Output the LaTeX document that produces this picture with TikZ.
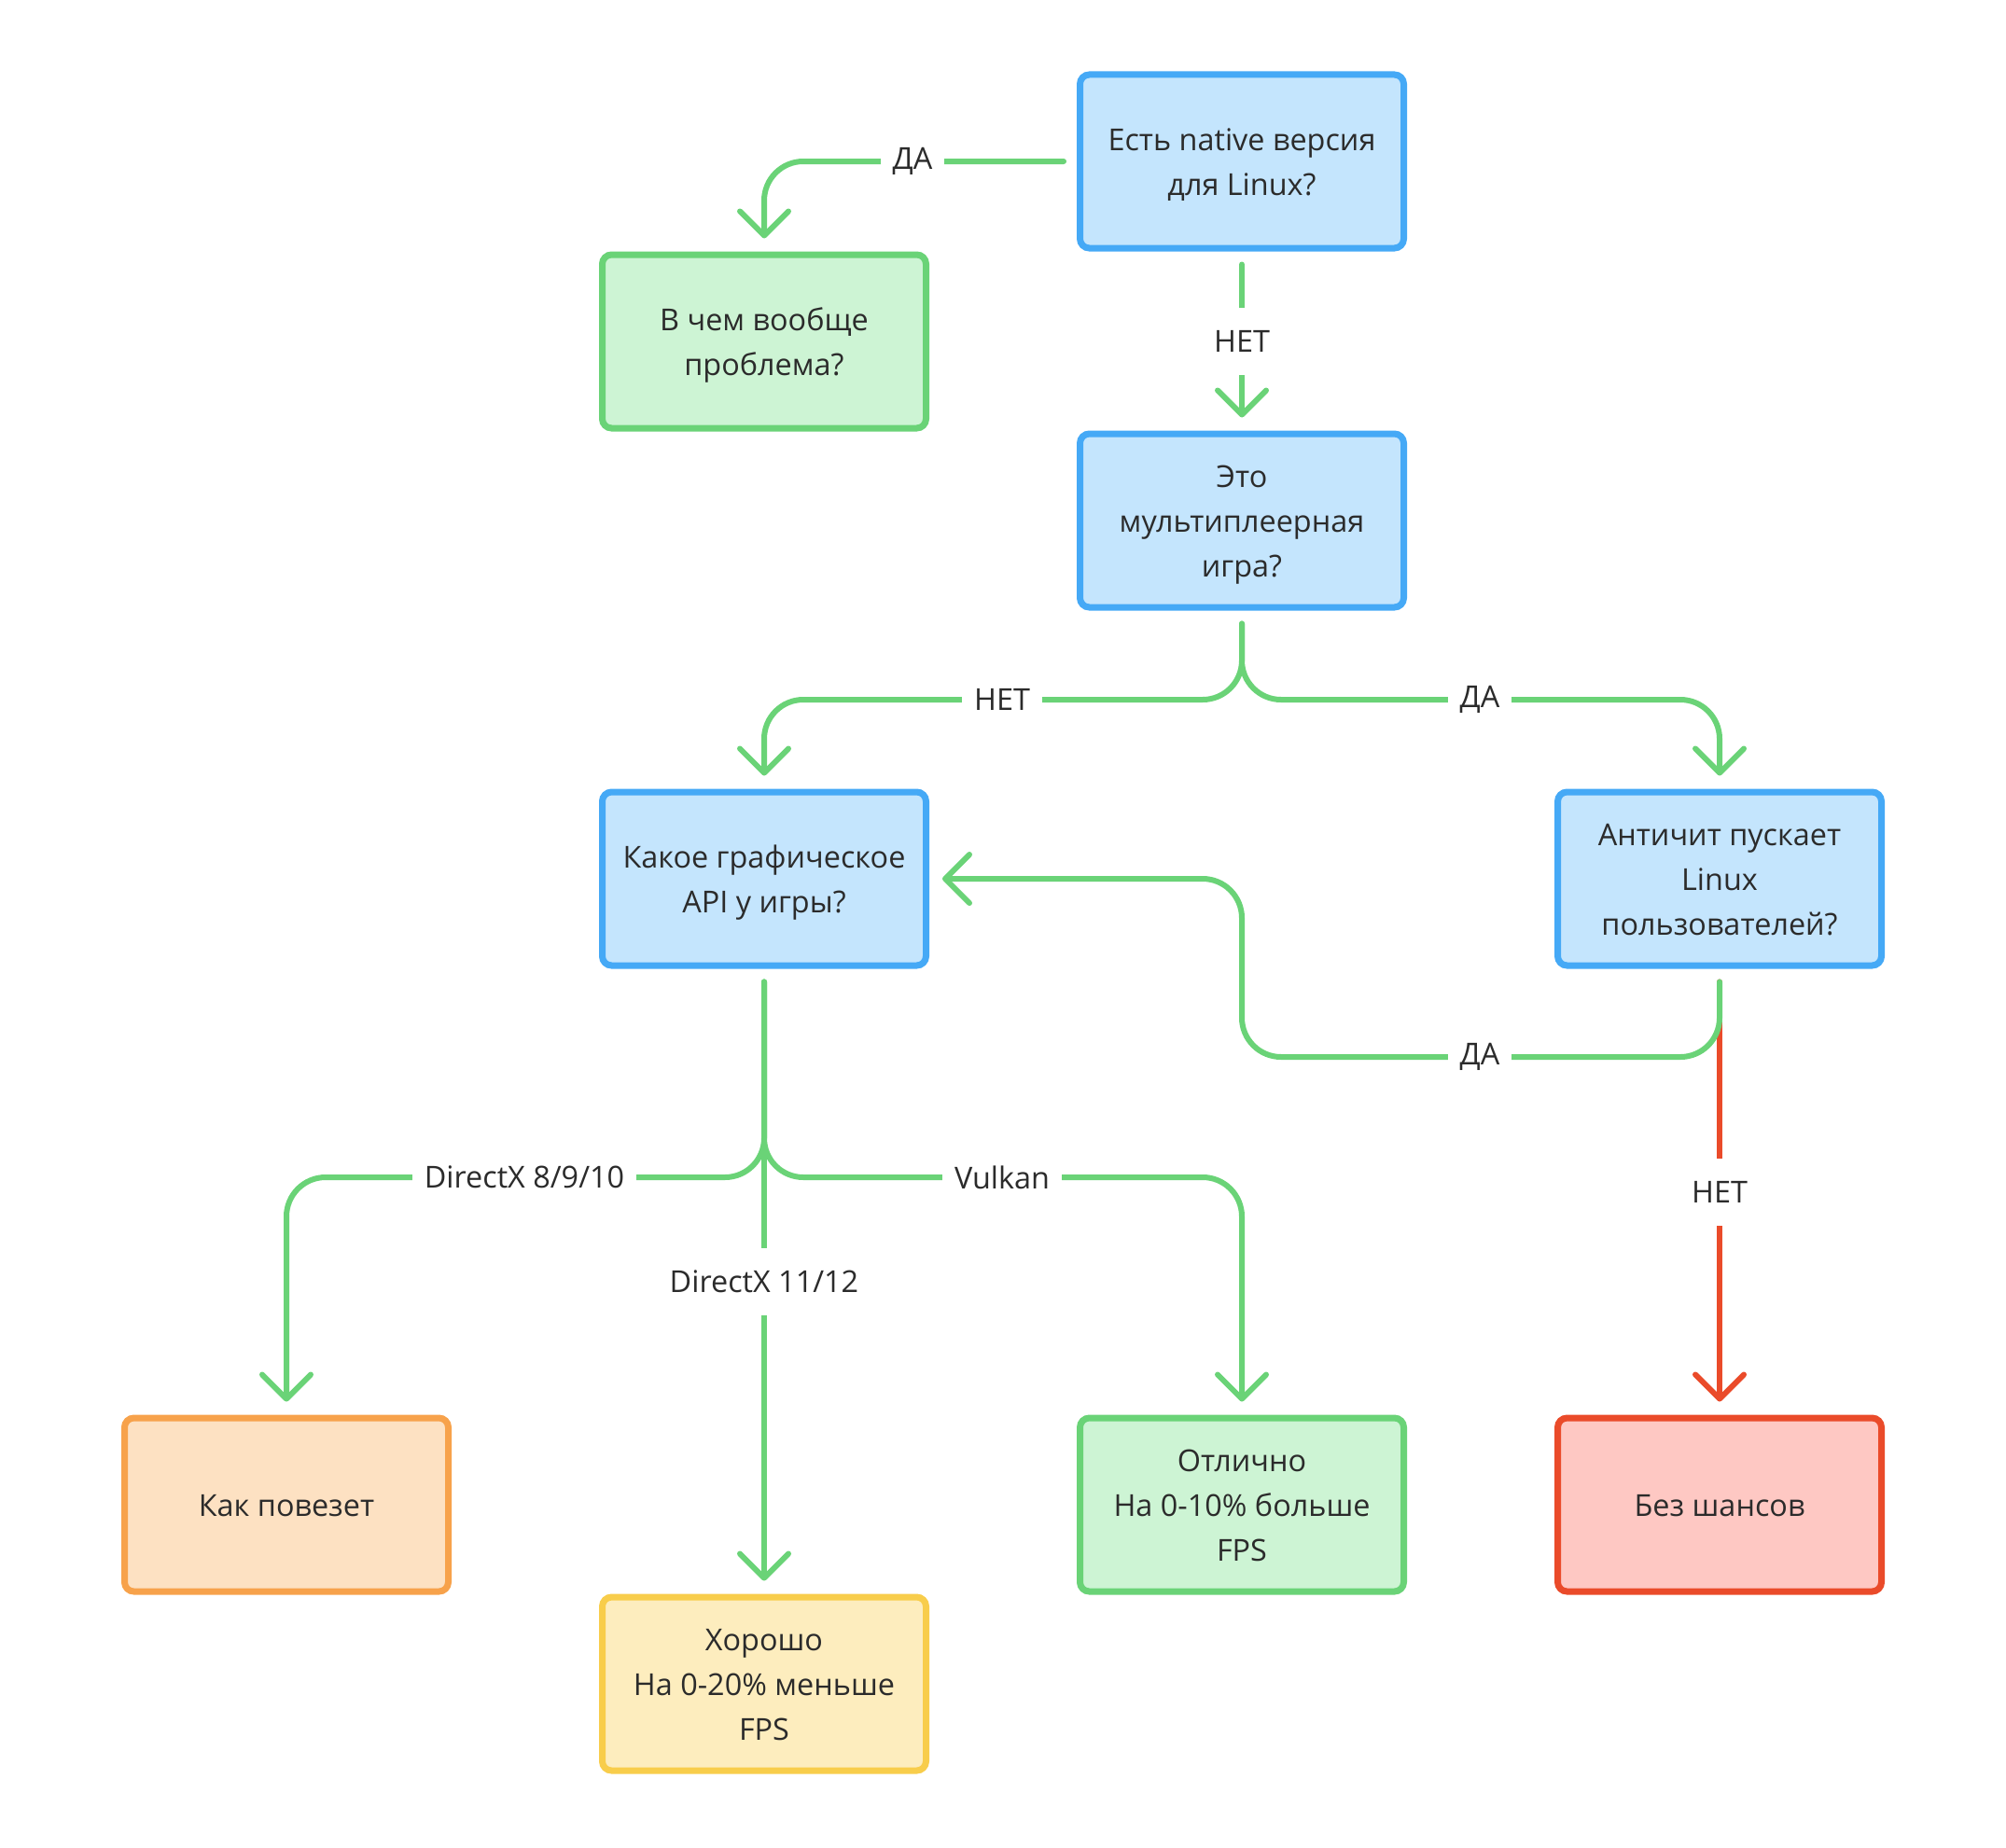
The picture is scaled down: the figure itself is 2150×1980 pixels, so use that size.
\documentclass[tikz,border=0pt]{standalone}
\usepackage{fontspec}
\setmainfont{Open Sans}
\usetikzlibrary{arrows.meta}
\definecolor{bluefill}{HTML}{C4E5FD}
\definecolor{bluedraw}{HTML}{45A9F6}
\definecolor{greenfill}{HTML}{CDF4D4}
\definecolor{greendraw}{HTML}{6AD377}
\definecolor{orangefill}{HTML}{FDE1C2}
\definecolor{orangedraw}{HTML}{F7A24B}
\definecolor{yellowfill}{HTML}{FDEDBE}
\definecolor{yellowdraw}{HTML}{F8CD4B}
\definecolor{redfill}{HTML}{FEC8C3}
\definecolor{reddraw}{HTML}{EA4B2A}
\definecolor{textc}{HTML}{2B2B2B}
\newcommand{\bxt}[2][1.5pt]{\raisebox{-#1}[\height][\depth]{\begin{tabular}{@{}c@{}}#2\end{tabular}}}
\tikzset{
  box/.style={rectangle, rounded corners=5pt, line width=3.5pt,
    minimum width=173.5pt, minimum height=93pt, inner sep=0pt,
    text=textc, font=\fontsize{16.2}{24}\selectfont, outer sep=8.75pt},
  bluebox/.style={box, draw=bluedraw, fill=bluefill},
  greenbox/.style={box, draw=greendraw, fill=greenfill},
  orangebox/.style={box, draw=orangedraw, fill=orangefill},
  yellowbox/.style={box, draw=yellowdraw, fill=yellowfill},
  redbox/.style={box, draw=reddraw, fill=redfill},
  conn/.style={line width=3pt, draw=greendraw, line cap=round, line join=round, rounded corners=21pt},
  redconn/.style={conn, draw=reddraw},
  arr/.style={-{Straight Barb[length=13pt,width=26pt,round]}},
  lab/.style={fill=white, inner xsep=6.5pt, inner ysep=0pt, minimum height=36pt,
    text=textc, font=\fontsize{16.2}{18}\selectfont}
}
\begin{document}
\begin{tikzpicture}[x=0.5pt,y=-0.5pt]
\useasboundingbox (0,0) rectangle (2150,1980);
% boxes
\node[bluebox] (b1) at (1331,173) {\bxt{Есть native версия\\для Linux?}};
\node[greenbox] (b2) at (819,366) {\bxt{В чем вообще\\проблема?}};
\node[bluebox] (b3) at (1331,558) {\bxt{Это\\мультиплеерная\\игра?}};
\node[bluebox] (b4) at (819,942) {\bxt{Какое графическое\\API у игры?}};
\node[bluebox] (b5) at (1843,942) {\bxt{Античит пускает\\Linux\\пользователей?}};
\node[orangebox] (b6) at (307,1613) {\bxt{Как повезет}};
\node[yellowbox] (b7) at (819,1805) {\bxt{Хорошо\\На 0-20\% меньше\\FPS}};
\node[greenbox] (b8) at (1331,1613) {\bxt{Отлично\\На 0-10\% больше\\FPS}};
\node[redbox] (b9) at (1843,1613) {\bxt{Без шансов}};
% junctions
\coordinate (j1) at (1331,750);
\coordinate (j2) at (819,1262);
\coordinate (j3) at (1331,1133);
% connectors
\draw[redconn, arr] (b5.south) -- (b9.north);
\draw[conn, arr] (b1.west) -| (b2.north);
\draw[conn, arr] (b1.south) -- (b3.north);
\draw[conn, arr] (b3.south) -- (j1) -| (b4.north);
\draw[conn, arr] (b3.south) -- (j1) -| (b5.north);
\draw[conn, arr] (b5.south) |- (j3) |- (b4.east);
\draw[conn, arr] (b4.south) -- (b7.north);
\draw[conn, arr] (b4.south) -- (j2) -| (b6.north);
\draw[conn, arr] (b4.south) -- (j2) -| (b8.north);
% labels
\node[lab] (l1) at (978,173) {ДА};
\node[lab] (l2) at (1331,366) {НЕТ};
\node[lab] (l3) at (1074,750) {НЕТ};
\node[lab] (l4) at (1586,750) {ДА};
\node[lab] (l5) at (1586,1133) {ДА};
\node[lab] (l6) at (1843,1278) {НЕТ};
\node[lab] (l7) at (562,1262) {DirectX 8/9/10};
\node[lab] (l8) at (1074,1262) {Vulkan};
\node[lab] (l9) at (819,1374) {DirectX 11/12};
\end{tikzpicture}
\end{document}
